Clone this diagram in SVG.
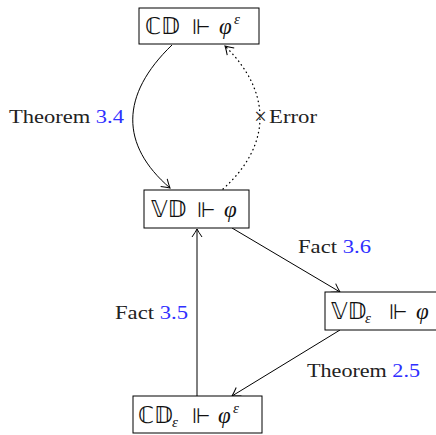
<svg xmlns="http://www.w3.org/2000/svg" width="436" height="435" viewBox="0 0 436 435">
<style>
.box{fill:#fff;stroke:#000;stroke-width:1}
.lbl{font-family:"Liberation Serif",serif;font-size:19px;fill:#222}
.ref{fill:#2f2fff}
.m{font-family:"Liberation Serif",serif;font-size:23px;fill:#111}
.bb{font-family:"DejaVu Sans",sans-serif;font-size:23px}
.rel{font-family:"DejaVu Sans",sans-serif;font-size:21px}
.it{font-style:italic}
.sub{font-size:15px;font-style:italic}
.edge{fill:none;stroke:#000;stroke-width:1}
.dot{stroke-dasharray:0.5 4;stroke-linecap:round;stroke-width:1.3}
</style>
<defs>
<marker id="ar" markerWidth="14" markerHeight="14" refX="0" refY="0" viewBox="-10 -7 12 14" orient="auto" markerUnits="userSpaceOnUse">
<path d="M-8,-5 Q-3,-1.5 0,0 Q-3,1.5 -8,5" fill="none" stroke="#000" stroke-width="1"/>
</marker>
</defs>
<rect width="436" height="435" fill="#fff"/>
<g id="edges">
<path class="edge" d="M172,45 C120,95 120,145 170,188" marker-end="url(#ar)"/>
<path class="edge dot" d="M223,189 C272,145 272,92 225,46" marker-end="url(#ar)"/>
<path class="edge" d="M197,396 L197,229" marker-end="url(#ar)"/>
<path class="edge" d="M232,228 L340,292" marker-end="url(#ar)"/>
<path class="edge" d="M340,330 L232,396" marker-end="url(#ar)"/>
</g>
<g id="n-cd">
<rect class="box" x="139" y="8" width="120" height="36"/>
<text class="m" y="34"><tspan class="bb" x="145">ℂ𝔻</tspan><tspan class="rel" x="192">⊩</tspan><tspan class="it" x="219">φ</tspan><tspan class="sub" x="234" y="24">ε</tspan></text>
</g>
<g id="n-vd">
<rect class="box" x="144" y="190" width="105" height="38"/>
<text class="m" y="217"><tspan class="bb" x="151">𝕍𝔻</tspan><tspan class="rel" x="197">⊩</tspan><tspan class="it" x="224">φ</tspan></text>
</g>
<g id="n-vde">
<rect class="box" x="325" y="292" width="115" height="38"/>
<text class="m" y="319"><tspan class="bb" x="331">𝕍𝔻</tspan><tspan class="sub" x="365" y="323">ε</tspan><tspan class="rel" x="389" y="319">⊩</tspan><tspan class="it" x="416">φ</tspan></text>
</g>
<g id="n-cde">
<rect class="box" x="133" y="396" width="129" height="37"/>
<text class="m" y="423"><tspan class="bb" x="138">ℂ𝔻</tspan><tspan class="sub" x="172" y="427">ε</tspan><tspan class="rel" x="192" y="423">⊩</tspan><tspan class="it" x="218">φ</tspan><tspan class="sub" x="233" y="413">ε</tspan></text>
</g>
<g id="labels">
<text class="lbl" x="9" y="123" textLength="115" lengthAdjust="spacingAndGlyphs">Theorem <tspan class="ref">3.4</tspan></text>
<text class="lbl" x="254" y="124" style="font-size:23px">×</text>
<text class="lbl" x="269" y="123" textLength="48" lengthAdjust="spacingAndGlyphs">Error</text>
<text class="lbl" x="298" y="253" textLength="73" lengthAdjust="spacingAndGlyphs">Fact <tspan class="ref">3.6</tspan></text>
<text class="lbl" x="115" y="319" textLength="73" lengthAdjust="spacingAndGlyphs">Fact <tspan class="ref">3.5</tspan></text>
<text class="lbl" x="307" y="377" textLength="113" lengthAdjust="spacingAndGlyphs">Theorem <tspan class="ref">2.5</tspan></text>
</g>
</svg>
